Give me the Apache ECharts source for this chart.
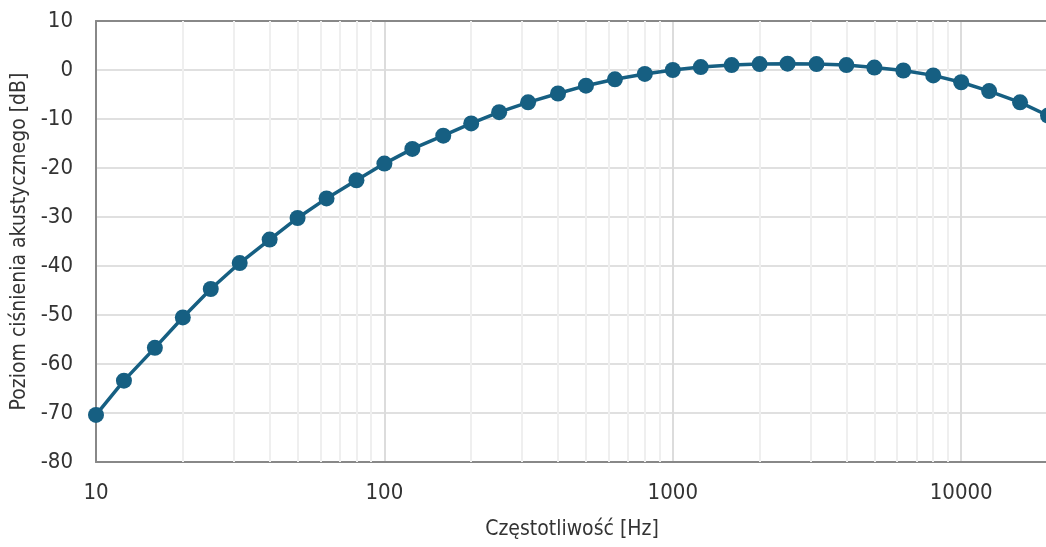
<!DOCTYPE html>
<html>
<head>
<meta charset="utf-8">
<script src="https://cdn.jsdelivr.net/npm/echarts@6/dist/echarts.min.js"></script>
<style>
  html, body { margin: 0; padding: 0; background: #fff; }
  #chart { width: 1046px; height: 547px; }
</style>
</head>
<body>
<div id="chart"></div>
<script>
// A-weighting curve at third-octave band centre frequencies
var frequencies = [10, 12.5, 16, 20, 25, 31.5, 40, 50, 63, 80, 100, 125, 160, 200, 250, 315, 400, 500, 630, 800,
  1000, 1250, 1600, 2000, 2500, 3150, 4000, 5000, 6300, 8000, 10000, 12500, 16000, 20000];
var levels = [-70.4, -63.4, -56.7, -50.5, -44.7, -39.4, -34.6, -30.2, -26.2, -22.5, -19.1, -16.1, -13.4, -10.9, -8.6,
  -6.6, -4.8, -3.2, -1.9, -0.8, 0, 0.6, 1.0, 1.2, 1.3, 1.2, 1.0, 0.5, -0.1, -1.1, -2.5, -4.3, -6.6, -9.3];
var minorGridFreqs = [20, 30, 40, 50, 60, 70, 80, 90, 200, 300, 400, 500, 600, 700, 800, 900,
  2000, 3000, 4000, 5000, 6000, 7000, 8000, 9000];

var FONT = '"Liberation Sans Narrow", "DejaVu Sans Condensed", "Roboto", sans-serif';
var TEXT = '#333';
var chart = echarts.init(document.getElementById('chart'), null, { renderer: 'canvas' });

chart.setOption({
  animation: false,
  grid: { left: 96, right: -2, top: 21, bottom: 85, containLabel: false, outerBoundsMode: 'none' },
  xAxis: [{
    type: 'log',
    logBase: 10,
    min: 10,
    max: 20000,
    name: 'Częstotliwość [Hz]',
    nameLocation: 'middle',
    nameGap: 57,
    nameTextStyle: { fontFamily: FONT, fontSize: 21, color: TEXT },
    axisLine: { show: true, onZero: false, lineStyle: { color: '#888', width: 2 } },
    axisTick: { show: false },
    axisLabel: {
      showMaxLabel: false,
      margin: 20,
      fontFamily: FONT, fontSize: 22, color: TEXT,
      formatter: function (v) { return String(Math.round(v)); }
    },
    splitLine: { show: true, lineStyle: { color: '#dcdcdc', width: 2 } }
  }, {
    type: 'log',
    logBase: 10,
    min: 10,
    max: 20000,
    position: 'top',
    axisLine: { show: true, onZero: false, lineStyle: { color: '#888', width: 2 } },
    axisTick: { show: false },
    axisLabel: { show: false },
    splitLine: { show: false }
  }],
  yAxis: {
    type: 'value',
    min: -80,
    max: 10,
    interval: 10,
    name: 'Poziom ciśnienia akustycznego [dB]',
    nameLocation: 'middle',
    nameGap: 62,
    nameTextStyle: { fontFamily: FONT, fontSize: 21, color: TEXT },
    axisLine: { show: true, onZero: false, lineStyle: { color: '#888', width: 2 } },
    axisTick: { show: false },
    axisLabel: { margin: 23, fontFamily: FONT, fontSize: 22, color: TEXT },
    splitLine: { show: true, lineStyle: { color: '#e0e0e0', width: 2 } }
  },
  series: [{
    type: 'line',
    name: 'minor',
    data: [],
    silent: true,
    markLine: {
      silent: true,
      symbol: 'none',
      label: { show: false },
      animation: false,
      lineStyle: { color: '#efefef', width: 2, type: 'solid' },
      emphasis: { disabled: true },
      data: minorGridFreqs.map(function (f) { return { xAxis: f }; })
    },
    z: 0
  }, {
    type: 'line',
    name: 'A',
    data: frequencies.map(function (f, i) { return [f, levels[i]]; }),
    lineStyle: { color: '#165f82', width: 3.5 },
    itemStyle: { color: '#165f82' },
    symbol: 'circle',
    symbolSize: 16,
    showAllSymbol: true,
    clip: false,
    z: 5
  }]
});
</script>
</body>
</html>
